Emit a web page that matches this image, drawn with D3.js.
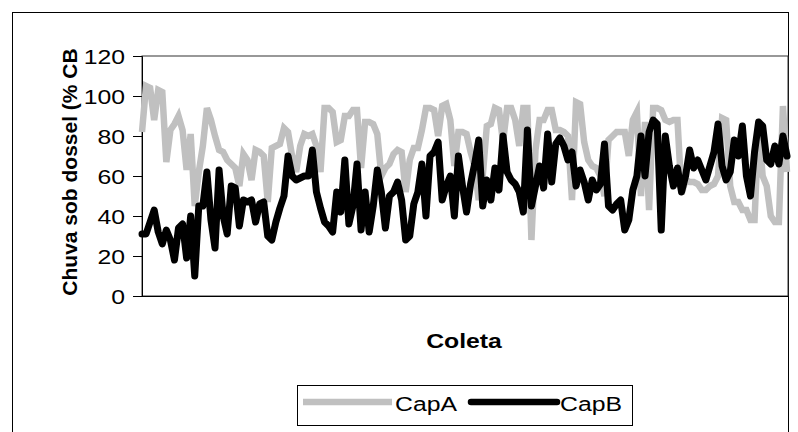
<!DOCTYPE html>
<html>
<meta charset="utf-8">
<head>
    <title>Chuva sob dossel</title>
    <script src="https://d3js.org/d3.v7.min.js"></script>
    <style>
    body { margin: 0; background: #fff; }
    text { font-family: "Liberation Sans", Arial, sans-serif; }
    </style>
</head>
<body>
<script>

// Values (% of rainfall above canopy), one per collection
var capA = [82, 105, 104, 88, 103, 102, 67, 83, 86, 90,
    83, 63, 81, 45, 62, 75, 94, 88, 80, 73,
    72, 68, 66, 64, 55, 71, 68, 58, 73, 72,
    70, 47, 74, 75, 76, 84, 82, 70, 62, 75,
    81, 80, 81, 75, 62, 94, 94, 92, 77, 78,
    90, 90, 93, 93, 64, 87, 87, 86, 81, 60,
    64, 66, 71, 73, 72, 52, 68, 74, 74, 83,
    94, 94, 93, 80, 95, 96, 88, 65, 82, 82,
    81, 72, 65, 48, 60, 85, 86, 94, 93, 77,
    94, 94, 88, 75, 94, 94, 28, 73, 88, 88,
    93, 93, 83, 83, 82, 80, 48, 97, 96, 77,
    68, 65, 64, 60, 50, 78, 80, 82, 82, 82,
    70, 88, 92, 50, 87, 43, 94, 94, 93, 88,
    87, 88, 88, 51, 58, 57, 57, 56, 53, 53,
    55, 56, 60, 89, 88, 55, 47, 47, 43, 43,
    38, 38, 86, 60, 55, 40, 37, 37, 95, 62];

var capB = [31, 31, 37, 43, 32, 26, 33, 28, 18, 34,
    36, 19, 40, 10, 45, 45, 62, 38, 24, 63,
    40, 31, 55, 54, 35, 48, 47, 48, 37, 46,
    47, 30, 28, 37, 44, 50, 70, 60, 58, 59,
    60, 60, 73, 52, 44, 37, 35, 32, 52, 42,
    68, 36, 45, 66, 33, 52, 32, 45, 63, 52,
    34, 50, 52, 57, 48, 28, 30, 46, 52, 66,
    40, 70, 72, 77, 48, 55, 60, 40, 70, 55,
    42, 56, 66, 78, 45, 58, 48, 64, 53, 80,
    62, 58, 56, 52, 42, 83, 45, 55, 65, 54,
    81, 57, 76, 79, 75, 68, 72, 55, 63, 57,
    48, 58, 53, 56, 76, 45, 43, 46, 48, 33,
    38, 53, 60, 80, 60, 82, 88, 86, 33, 80,
    65, 55, 64, 52, 60, 73, 64, 68, 63, 58,
    65, 72, 86, 65, 58, 62, 78, 70, 85, 60,
    50, 72, 87, 85, 68, 66, 75, 66, 80, 70];

var seriesNames = ["CapA", "CapB"];
var seriesColors = ["#c0c0c0", "#000000"];
var yTicks = [0, 20, 40, 60, 80, 100, 120];

var width = 798;
var height = 432;
var stretch = 1.18;   // the reference text is drawn a bit wider than normal

var svg = d3.select("body")
    .append("svg")
    .attr("width", width)
    .attr("height", height);

// Chart border
svg.append("rect")
    .attr("x", 12.5)
    .attr("y", 12.5)
    .attr("width", 776)
    .attr("height", 440)
    .attr("fill", "none")
    .attr("stroke", "#000")
    .attr("stroke-width", 1);

// Scales
var x = d3.scaleLinear()
    .domain([0, capA.length - 1])
    .range([142, 787]);

var y = d3.scaleLinear()
    .domain([0, 120])
    .range([296, 56]);

// Plot area frame
svg.append("rect")
    .attr("x", 142)
    .attr("y", 56)
    .attr("width", 646)
    .attr("height", 240)
    .attr("fill", "none")
    .attr("stroke", "#333")
    .attr("stroke-width", 1);

// Y axis
var yAxis = svg.append("g")
    .attr("transform", "translate(142,0)")
    .call(d3.axisLeft(y).tickValues(yTicks).tickSize(9).tickPadding(8));

yAxis.select(".domain").attr("stroke", "#000");
yAxis.selectAll(".tick line").attr("stroke", "#000");
yAxis.selectAll(".tick text")
    .attr("fill", "#000")
    .attr("x", -17 / stretch)
    .attr("transform", "scale(" + stretch + ",1)")
    .style("font-size", "21px")
    .attr("dy", "0.35em");

// X axis line (no labels)
svg.append("line")
    .attr("x1", 142).attr("x2", 788)
    .attr("y1", 296.5).attr("y2", 296.5)
    .attr("stroke", "#000");

// Lines
var line = d3.line()
    .x(function(d, i) { return x(i); })
    .y(function(d) { return y(d); });

svg.append("path")
    .datum(capA)
    .attr("fill", "none")
    .attr("stroke", seriesColors[0])
    .attr("stroke-width", 6.5)
    .attr("stroke-linejoin", "miter")
    .attr("d", line);

svg.append("path")
    .datum(capB)
    .attr("fill", "none")
    .attr("stroke", seriesColors[1])
    .attr("stroke-width", 7)
    .attr("stroke-linejoin", "round")
    .attr("stroke-linecap", "round")
    .attr("d", line);

// Axis titles
svg.append("text")
    .attr("transform", "translate(77,172) rotate(-90)")
    .attr("text-anchor", "middle")
    .style("font-size", "21px")
    .style("font-weight", "bold")
    .text("Chuva sob dossel (% CB");

svg.append("text")
    .attr("transform", "translate(464,348) scale(" + stretch + ",1)")
    .attr("text-anchor", "middle")
    .style("font-size", "21px")
    .style("font-weight", "bold")
    .text("Coleta");

// Legend
var legend = svg.append("g");

legend.append("rect")
    .attr("x", 297.5)
    .attr("y", 385.5)
    .attr("width", 335)
    .attr("height", 40)
    .attr("fill", "#fff")
    .attr("stroke", "#000");

var legendX = [303, 468];
seriesNames.forEach(function(name, i) {
    legend.append("line")
        .attr("x1", legendX[i] + (i ? 3 : 0))
        .attr("x2", legendX[i] + 89)
        .attr("y1", 402)
        .attr("y2", 402)
        .attr("stroke", seriesColors[i])
        .attr("stroke-width", 6.5)
        .attr("stroke-linecap", i ? "round" : "butt");
    legend.append("text")
        .attr("transform", "translate(" + (legendX[i] + 92) + ",411) scale(" + stretch + ",1)")
        .style("font-size", "21px")
        .text(name);
});

</script>
</body>
</html>
